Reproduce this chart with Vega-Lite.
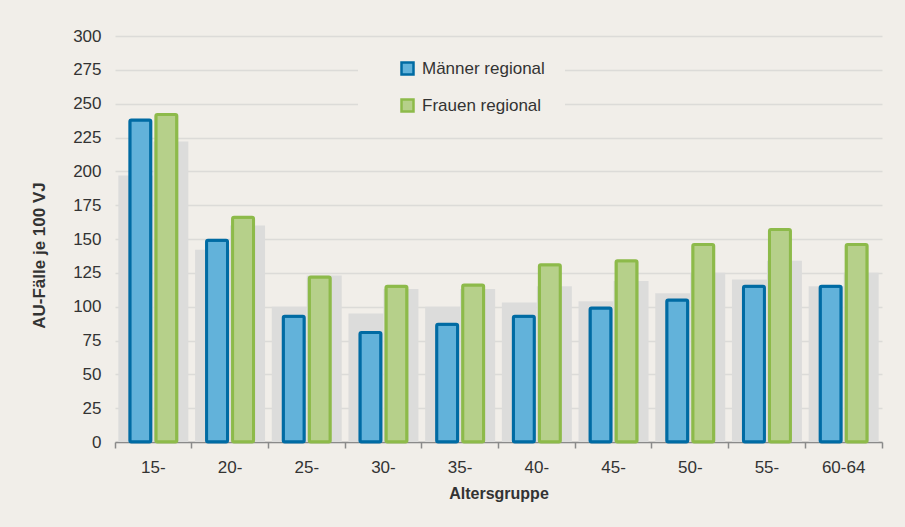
{
  "$schema": "https://vega.github.io/schema/vega-lite/v6.json",
  "width": 767,
  "height": 406,
  "autosize": {"type": "none"},
  "padding": {"left": 115, "top": 36, "right": 23, "bottom": 85},
  "background": "#f1eee9",
  "config": {
    "view": {"stroke": null},
    "font": "Liberation Sans",
    "axis": {"labelFont": "Liberation Sans", "titleFont": "Liberation Sans"},
    "legend": {"labelFont": "Liberation Sans"}
  },
  "data": {
    "values": [
      {"age": "15-", "serie": "Männer regional", "regional": 238, "vergleich": 197},
      {"age": "15-", "serie": "Frauen regional", "regional": 242, "vergleich": 222},
      {"age": "20-", "serie": "Männer regional", "regional": 149, "vergleich": 142},
      {"age": "20-", "serie": "Frauen regional", "regional": 166, "vergleich": 160},
      {"age": "25-", "serie": "Männer regional", "regional": 93, "vergleich": 100},
      {"age": "25-", "serie": "Frauen regional", "regional": 122, "vergleich": 123},
      {"age": "30-", "serie": "Männer regional", "regional": 81, "vergleich": 95},
      {"age": "30-", "serie": "Frauen regional", "regional": 115, "vergleich": 113},
      {"age": "35-", "serie": "Männer regional", "regional": 87, "vergleich": 100},
      {"age": "35-", "serie": "Frauen regional", "regional": 116, "vergleich": 113},
      {"age": "40-", "serie": "Männer regional", "regional": 93, "vergleich": 103},
      {"age": "40-", "serie": "Frauen regional", "regional": 131, "vergleich": 115},
      {"age": "45-", "serie": "Männer regional", "regional": 99, "vergleich": 104},
      {"age": "45-", "serie": "Frauen regional", "regional": 134, "vergleich": 119},
      {"age": "50-", "serie": "Männer regional", "regional": 105, "vergleich": 110},
      {"age": "50-", "serie": "Frauen regional", "regional": 146, "vergleich": 125},
      {"age": "55-", "serie": "Männer regional", "regional": 115, "vergleich": 120},
      {"age": "55-", "serie": "Frauen regional", "regional": 157, "vergleich": 134},
      {"age": "60-64", "serie": "Männer regional", "regional": 115, "vergleich": 115},
      {"age": "60-64", "serie": "Frauen regional", "regional": 146, "vergleich": 125}
    ]
  },
  "layer": [
    {
      "mark": {"type": "bar", "color": "#dcdcdb"},
      "encoding": {
        "x": {
          "field": "age", "type": "nominal", "sort": null,
          "scale": {"paddingInner": 0, "paddingOuter": 0},
          "axis": {
            "title": "Altersgruppe",
            "labelAngle": 0,
            "labelFontSize": 17,
            "labelColor": "#333333",
            "labelPadding": 11,
            "titleFontSize": 16,
            "titleFontWeight": "bold",
            "titleColor": "#333333",
            "titlePadding": 10,
            "domainColor": "#8a8a8a",
            "domainWidth": 1.5,
            "tickColor": "#8a8a8a",
            "tickWidth": 1.5,
            "tickSize": 6,
            "bandPosition": 1,
            "tickExtra": true,
            "grid": false
          }
        },
        "xOffset": {
          "field": "serie", "type": "nominal",
          "sort": ["Männer regional", "Frauen regional"],
          "scale": {"paddingInner": 0, "paddingOuter": 0.096}
        },
        "y": {
          "field": "vergleich", "type": "quantitative",
          "scale": {"domain": [0, 300], "nice": false},
          "axis": {
            "title": "AU-Fälle je 100 VJ",
            "values": [0, 25, 50, 75, 100, 125, 150, 175, 200, 225, 250, 275, 300],
            "labelOverlap": false,
            "domain": false,
            "ticks": false,
            "labelFontSize": 17,
            "labelColor": "#333333",
            "labelPadding": 14,
            "gridColor": "#dcdbd8",
            "gridWidth": 1.3,
            "titleFontSize": 17,
            "titleFontWeight": "bold",
            "titleColor": "#333333",
            "titleX": -76,
            "titleY": 219,
            "titleAngle": -90,
            "titleAlign": "center",
            "titleBaseline": "middle"
          }
        }
      }
    },
    {
      "mark": {"type": "bar", "strokeWidth": 3, "cornerRadius": 1.5},
      "encoding": {
        "x": {"field": "age", "type": "nominal", "sort": null},
        "xOffset": {
          "field": "serie", "type": "nominal",
          "sort": ["Männer regional", "Frauen regional"],
          "scale": {"paddingInner": 0.1923, "paddingOuter": 0.571}
        },
        "y": {
          "field": "regional", "type": "quantitative",
          "axis": {
            "title": "AU-Fälle je 100 VJ",
            "values": [0, 25, 50, 75, 100, 125, 150, 175, 200, 225, 250, 275, 300],
            "labelOverlap": false,
            "domain": false,
            "ticks": false,
            "labelFontSize": 17,
            "labelColor": "#333333",
            "labelPadding": 14,
            "gridColor": "#dcdbd8",
            "gridWidth": 1.3,
            "titleFontSize": 17,
            "titleFontWeight": "bold",
            "titleColor": "#333333",
            "titleX": -76,
            "titleY": 219,
            "titleAngle": -90,
            "titleAlign": "center",
            "titleBaseline": "middle"
          }
        },
        "fill": {
          "field": "serie", "type": "nominal",
          "scale": {"domain": ["Männer regional", "Frauen regional"], "range": ["#62b2da", "#b6d08a"]},
          "legend": {
            "title": null,
            "orient": "none",
            "legendX": 243,
            "legendY": 4,
            "padding": 20,
            "fillColor": "#f1eee9",
            "symbolType": "square",
            "symbolSize": 144,
            "symbolStrokeWidth": 2.5,
            "symbolOffset": 21,
            "labelFontSize": 17,
            "labelColor": "#333333",
            "labelOffset": 6,
            "rowPadding": 14
          }
        },
        "stroke": {
          "field": "serie", "type": "nominal",
          "scale": {"domain": ["Männer regional", "Frauen regional"], "range": ["#006ba3", "#8dba4a"]},
          "legend": {
            "title": null,
            "orient": "none",
            "legendX": 243,
            "legendY": 4,
            "padding": 20,
            "fillColor": "#f1eee9",
            "symbolType": "square",
            "symbolSize": 144,
            "symbolStrokeWidth": 2.5,
            "symbolOffset": 21,
            "labelFontSize": 17,
            "labelColor": "#333333",
            "labelOffset": 6,
            "rowPadding": 14
          }
        }
      }
    }
  ],
  "resolve": {"scale": {"xOffset": "independent"}}
}
